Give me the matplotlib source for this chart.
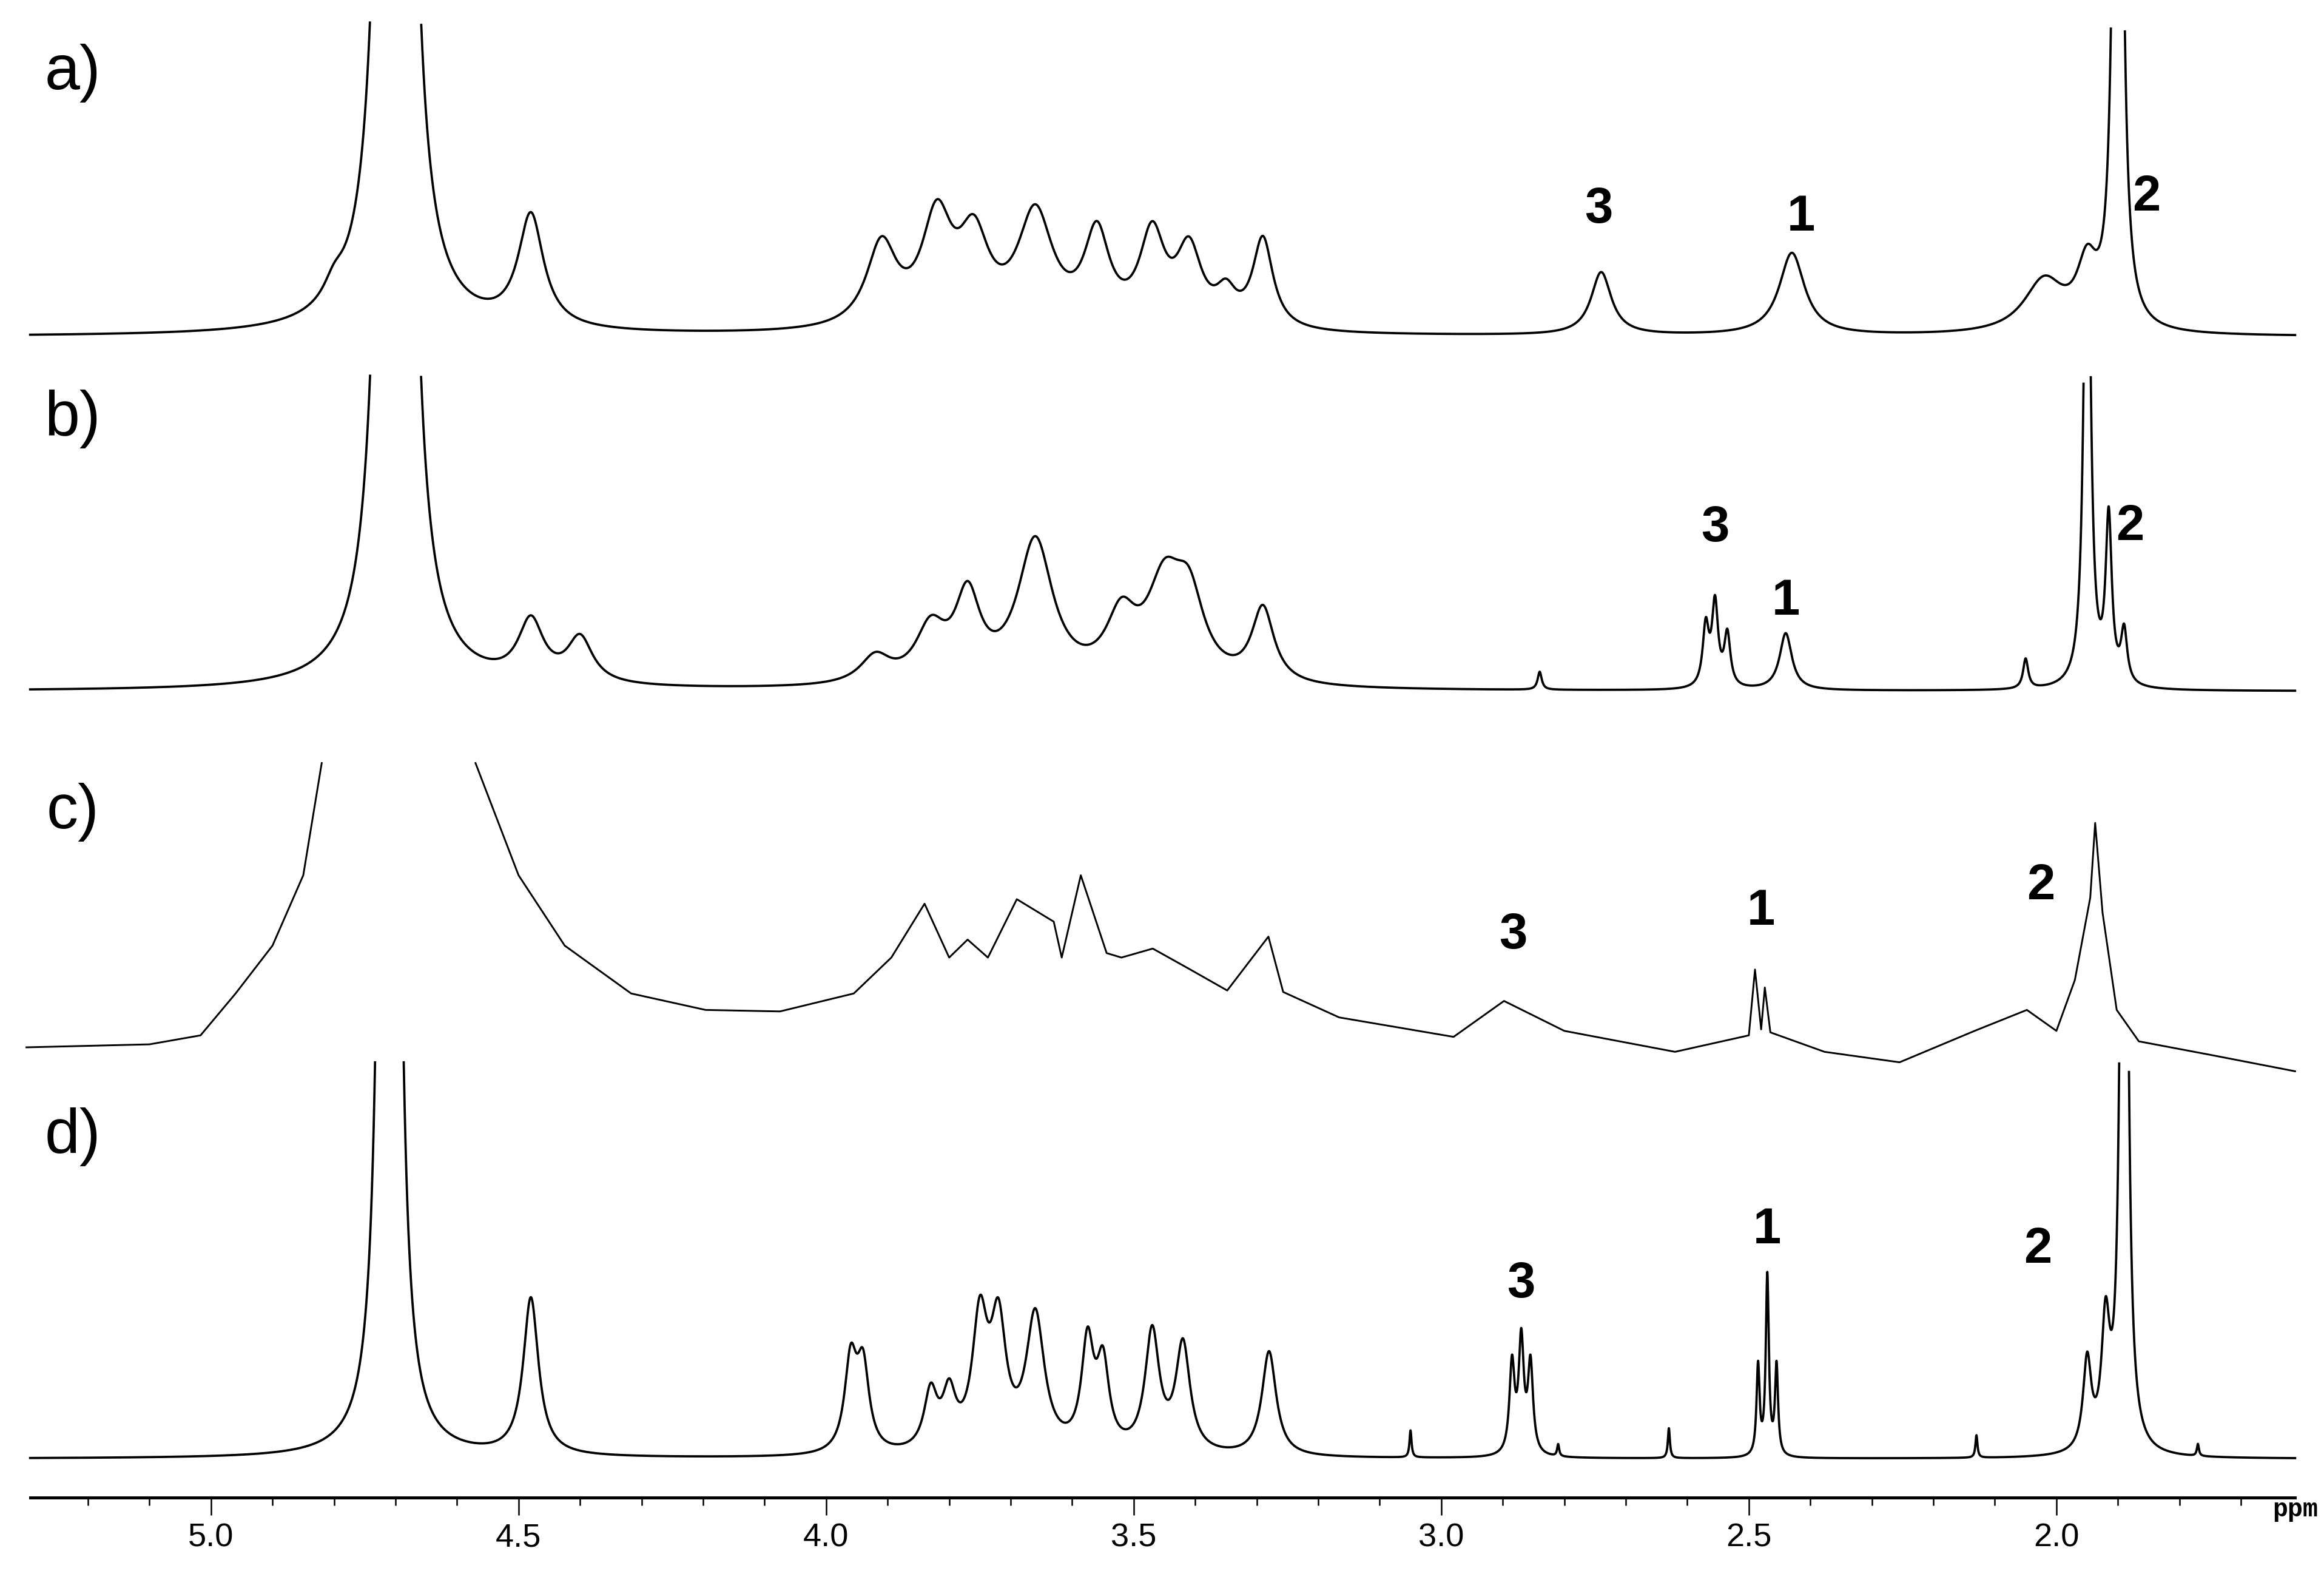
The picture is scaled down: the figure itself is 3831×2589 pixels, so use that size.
import numpy as np
import matplotlib
matplotlib.use("Agg")
import matplotlib.pyplot as plt

# peak tables: position (ppm), amplitude (px), half-width (ppm)
a_pos = [4.70, 4.80, 4.48, 3.91, 3.82, 3.76, 3.66, 3.56, 3.47, 3.41, 3.35, 3.29, 2.74, 2.43, 2.02, 1.95, 1.90]
a_amp = [18000, 12, 75, 55, 70, 55, 75, 60, 60, 50, 20, 60, 42, 55, 35, 40, 900]
a_hw  = [0.0045, 0.02, 0.025, 0.03, 0.03, 0.03, 0.035, 0.025, 0.025, 0.025, 0.02, 0.02, 0.02, 0.025, 0.04, 0.02, 0.006]
b_pos = [4.70, 4.48, 4.40, 3.92, 3.83, 3.77, 3.66, 3.52, 3.45, 3.41, 3.29, 2.84, 2.57, 2.555, 2.535, 2.44, 2.05, 1.95, 1.915, 1.89]
b_amp = [18000, 40, 30, 18, 35, 55, 95, 40, 60, 50, 50, 12, 40, 55, 35, 38, 20, 400, 110, 35]
b_hw  = [0.0045, 0.025, 0.025, 0.03, 0.03, 0.025, 0.035, 0.03, 0.035, 0.03, 0.022, 0.004, 0.006, 0.006, 0.006, 0.012, 0.005, 0.006, 0.006, 0.006]
# spectrum c read as trace points (ppm, height px); None marks the off-scale water region
c_ppm = [5.30, 5.10, 5.017, 4.96, 4.90, 4.85, 4.82, None, 4.57, 4.50, 4.425, 4.317, 4.196, 4.075, 3.955,
         3.894, 3.84, 3.80, 3.77, 3.737, 3.69, 3.63, 3.617, 3.586, 3.544, 3.52, 3.469, 3.408, 3.348,
         3.281, 3.257, 3.166, 2.98, 2.898, 2.80, 2.62, 2.50, 2.49, 2.48, 2.474, 2.465, 2.377, 2.255,
         2.133, 2.048, 2.00, 1.97, 1.945, 1.937, 1.925, 1.902, 1.866, 1.75, 1.612]
c_h   = [350, 352, 358, 386, 418, 465, 540, None, 540, 465, 418, 386, 375, 374, 386,
         410, 446, 410, 422, 410, 449, 434, 410, 465, 413, 410, 416, 402, 388,
         424, 387, 370, 357, 381, 361, 347, 358, 402, 362, 390, 360, 347, 340,
         361, 375, 361, 395, 450, 500, 440, 375, 354, 345, 334]
d_pos = [4.71, 4.48, 3.96, 3.94, 3.83, 3.80, 3.75, 3.72, 3.66, 3.575, 3.55, 3.47, 3.42, 3.28,
         3.05, 2.885, 2.87, 2.855, 2.81, 2.63, 2.485, 2.47, 2.455, 2.13, 1.95, 1.92, 1.89, 1.77]
d_amp = [12000, 105, 60, 55, 38, 35, 85, 80, 90, 70, 55, 80, 72, 70,
         18, 60, 75, 60, 8, 20, 60, 120, 60, 15, 60, 80, 900, 8]
d_hw  = [0.0035, 0.015, 0.012, 0.012, 0.013, 0.013, 0.015, 0.015, 0.018, 0.012, 0.012, 0.014, 0.014, 0.014,
         0.002, 0.005, 0.005, 0.005, 0.002, 0.002, 0.003, 0.003, 0.003, 0.002, 0.008, 0.008, 0.005, 0.002]

labels = ["a)", "b)", "c)", "d)"]
label_y = [1001, 770, 507, 290]
baselines = [825, 588, 75]
clips = [1035, 800, 340]
peak_labels = [
    (2.744, "3", 910), (2.415, "1", 905), (1.854, "2", 918),
    (2.555, "3", 697), (2.44, "1", 648), (1.88, "2", 698),
    (2.883, "3", 425), (2.48, "1", 441), (2.025, "2", 458),
    (2.87, "3", 192), (2.47, "1", 228), (2.03, "2", 215),
]
ticks = [5.0, 4.5, 4.0, 3.5, 3.0, 2.5, 2.0]

x = np.linspace(5.294, 1.612, 15000)
def spec(pos, amp, hw):
    y = np.zeros_like(x)
    for p, a, g in zip(pos, amp, hw):
        y += a / (1 + ((x - p) / g) ** 2)
    return y

fig = plt.figure(figsize=(3831/300, 2589/300), dpi=300)
ax = fig.add_axes([0, 0, 1, 1])
ax.set_xlim(5.343, 1.565)
ax.set_ylim(0, 1050)
ax.axis("off")
lw = 0.9
for pos, amp, hw, base, clip in [(a_pos, a_amp, a_hw, baselines[0], clips[0]),
                                 (b_pos, b_amp, b_hw, baselines[1], clips[1]),
                                 (d_pos, d_amp, d_hw, baselines[2], clips[2])]:
    y = base + spec(pos, amp, hw)
    y = np.where(y > clip, np.nan, y)
    ax.plot(x, y, color="black", lw=lw)
cx = np.array([np.nan if v is None else v for v in c_ppm], dtype=float)
cy = np.array([np.nan if v is None else v for v in c_h], dtype=float)
ax.plot(cx, cy, color="black", lw=0.7)

for lab, ypx in zip(labels, label_y):
    ax.text(5.225, ypx, lab, fontsize=25, va="center", ha="center", family="Liberation Sans")
for p, t, ypx in peak_labels:
    ax.text(p, ypx, t, fontsize=20, fontweight="bold", ha="center", va="center", family="Liberation Sans")

ax2 = fig.add_axes([0, 49/1050, 1, 0.001])
ax2.set_xlim(5.343, 1.565)
ax2.set_yticks([])
ax2.patch.set_alpha(0)
for s in ["top", "left", "right"]:
    ax2.spines[s].set_visible(False)
ax2.spines["bottom"].set_bounds(5.294, 1.612)
ax2.spines["bottom"].set_linewidth(1.2)
ax2.set_xticks(ticks)
ax2.set_xticklabels([f"{t:.1f}" for t in ticks], family=["Liberation Sans Narrow", "Liberation Sans"], fontsize=13)
ax2.set_xticks(np.arange(5.2, 1.61, -0.1), minor=True)
ax2.tick_params(axis="x", which="major", length=7, width=0.6, pad=3)
ax2.tick_params(axis="x", which="minor", length=3, width=0.6)
ax2.text(1.612, -0.02, "ppm", transform=ax2.get_xaxis_transform(), ha="center", va="top",
         family="Liberation Mono", fontsize=10, fontweight="bold")
fig.savefig("out.png", dpi=300, facecolor="white")
